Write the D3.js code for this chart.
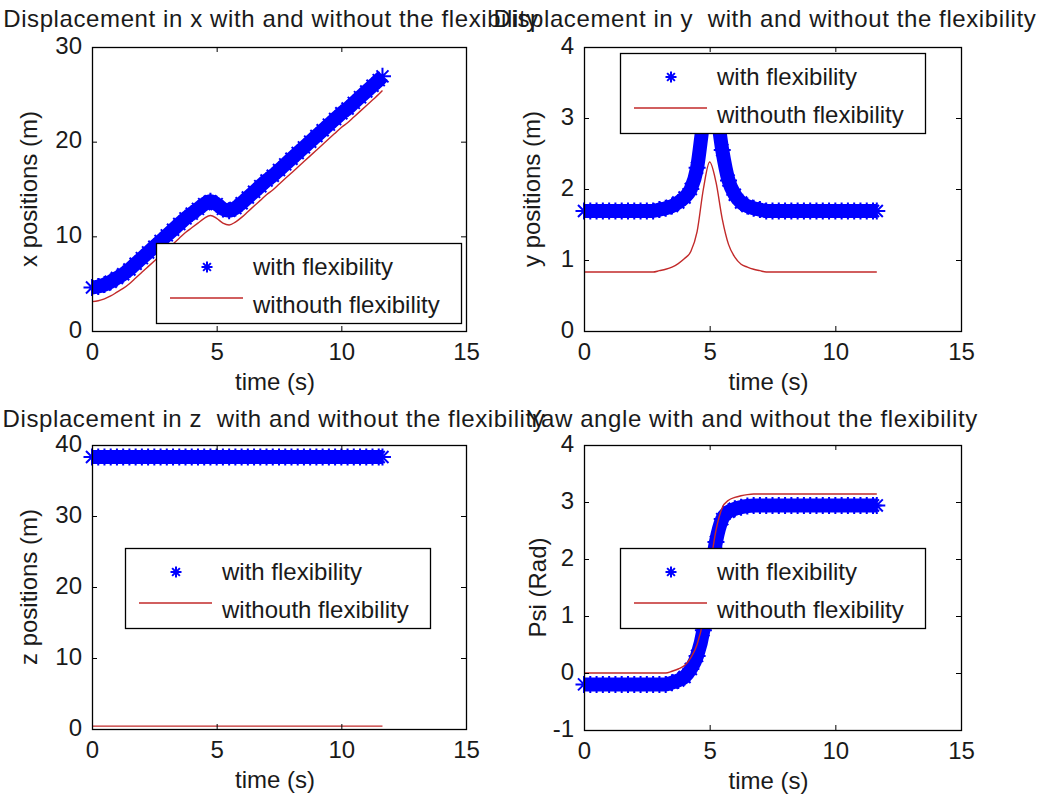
<!DOCTYPE html>
<html>
<head>
<meta charset="utf-8">
<script src="https://cdn.jsdelivr.net/npm/d3@7/dist/d3.min.js"></script>
<style>
  html, body { margin: 0; padding: 0; background: #ffffff; }
  svg { display: block; }
  text { font-family: "Liberation Sans", Arial, Helvetica, sans-serif; fill: #1a1a1a; }
</style>
</head>
<body>
<svg id="chart" width="1043" height="799"></svg>
<script>
// ---------------- data ----------------
const time = [0,0.25,0.5,0.75,1,1.25,1.5,1.75,2,2.25,2.5,2.75,3,3.25,3.5,3.75,4,4.25,4.5,4.75,5,5.25,5.5,5.75,6,6.25,6.5,6.75,7,7.25,7.5,7.75,8,8.25,8.5,8.75,9,9.25,9.5,9.75,10,10.25,10.5,10.75,11,11.25,11.5,11.65];

const xWith    = [4.6,4.7,4.9,5.2,5.6,6.0,6.5,7.1,7.7,8.3,8.9,9.5,10.1,10.7,11.3,11.9,12.4,12.9,13.4,13.7,13.4,12.9,12.7,13.0,13.5,14.1,14.7,15.3,15.9,16.4,17.0,17.6,18.2,18.8,19.4,20.0,20.6,21.2,21.8,22.4,23.0,23.5,24.1,24.7,25.3,25.9,26.5,26.9];
const xWithout = [3.1,3.2,3.4,3.7,4.1,4.5,5.0,5.6,6.2,6.8,7.4,8.0,8.6,9.2,9.8,10.4,10.9,11.4,11.9,12.2,11.9,11.4,11.2,11.5,12.0,12.6,13.2,13.8,14.4,14.9,15.5,16.1,16.7,17.3,17.9,18.5,19.1,19.7,20.3,20.9,21.5,22.0,22.6,23.2,23.8,24.4,25.0,25.4];

const yWith    = [1.69,1.69,1.69,1.69,1.69,1.69,1.69,1.69,1.69,1.69,1.69,1.69,1.71,1.73,1.76,1.81,1.88,2.00,2.30,2.95,3.40,3.15,2.55,2.12,1.92,1.81,1.76,1.73,1.71,1.69,1.69,1.69,1.69,1.69,1.69,1.69,1.69,1.69,1.69,1.69,1.69,1.69,1.69,1.69,1.69,1.69,1.69,1.69];
const yWithout = [0.83,0.83,0.83,0.83,0.83,0.83,0.83,0.83,0.83,0.83,0.83,0.83,0.85,0.87,0.90,0.95,1.02,1.12,1.40,2.00,2.38,2.10,1.58,1.22,1.04,0.94,0.90,0.87,0.85,0.83,0.83,0.83,0.83,0.83,0.83,0.83,0.83,0.83,0.83,0.83,0.83,0.83,0.83,0.83,0.83,0.83,0.83,0.83];

const zWith    = [38.3,38.3,38.3,38.3,38.3,38.3,38.3,38.3,38.3,38.3,38.3,38.3,38.3,38.3,38.3,38.3,38.3,38.3,38.3,38.3,38.3,38.3,38.3,38.3,38.3,38.3,38.3,38.3,38.3,38.3,38.3,38.3,38.3,38.3,38.3,38.3,38.3,38.3,38.3,38.3,38.3,38.3,38.3,38.3,38.3,38.3,38.3,38.3];
const zWithout = [0.4,0.4,0.4,0.4,0.4,0.4,0.4,0.4,0.4,0.4,0.4,0.4,0.4,0.4,0.4,0.4,0.4,0.4,0.4,0.4,0.4,0.4,0.4,0.4,0.4,0.4,0.4,0.4,0.4,0.4,0.4,0.4,0.4,0.4,0.4,0.4,0.4,0.4,0.4,0.4,0.4,0.4,0.4,0.4,0.4,0.4,0.4,0.4];

const psiWith    = [-0.2,-0.2,-0.2,-0.2,-0.2,-0.2,-0.2,-0.2,-0.2,-0.2,-0.2,-0.2,-0.2,-0.2,-0.17,-0.13,-0.07,0.07,0.30,0.75,1.60,2.30,2.70,2.83,2.88,2.91,2.93,2.94,2.94,2.94,2.94,2.94,2.94,2.94,2.94,2.94,2.94,2.94,2.94,2.94,2.94,2.94,2.94,2.94,2.94,2.94,2.94,2.94];
const psiWithout = [0,0,0,0,0,0,0,0,0,0,0,0,0,0,0.03,0.07,0.13,0.27,0.50,0.95,1.80,2.50,2.90,3.03,3.08,3.11,3.13,3.14,3.14,3.14,3.14,3.14,3.14,3.14,3.14,3.14,3.14,3.14,3.14,3.14,3.14,3.14,3.14,3.14,3.14,3.14,3.14,3.14];

const xTicks    = [0,5,10,15];
const yTicksX   = [0,10,20,30];
const yTicksY   = [0,1,2,3,4];
const yTicksZ   = [0,10,20,30,40];
const yTicksPsi = [-1,0,1,2,3,4];

const titles  = ["Displacement in x with and without the flexibility",
                 "Displacement in y  with and without the flexibility",
                 "Displacement in z  with and without the flexibility",
                 "Yaw angle with and without the flexibility"];
const ylabels = ["x positions (m)", "y positions (m)", "z positions (m)", "Psi (Rad)"];
const xlabel  = "time (s)";
const legendLabels = ["with flexibility", "withouth flexibility"];

// ---------------- layout ----------------
const panels = [
  {title: titles[0], ylabel: ylabels[0], w: xWith,   wo: xWithout,   yDom: [0,30], yTicks: yTicksX,
   box: {l: 92,  r: 466, t: 47,  b: 331}, leg: {x: 156, y: 243}, ylabX: 37,  titleX: 271, titleY: 27},
  {title: titles[1], ylabel: ylabels[1], w: yWith,   wo: yWithout,   yDom: [0,4],  yTicks: yTicksY,
   box: {l: 584, r: 961, t: 47,  b: 331}, leg: {x: 620, y: 53},  ylabX: 540, titleX: 765, titleY: 27},
  {title: titles[2], ylabel: ylabels[2], w: zWith,   wo: zWithout,   yDom: [0,40], yTicks: yTicksZ,
   box: {l: 92,  r: 466, t: 445, b: 729}, leg: {x: 125, y: 548}, ylabX: 37,  titleX: 274, titleY: 427},
  {title: titles[3], ylabel: ylabels[3], w: psiWith, wo: psiWithout, yDom: [-1,4], yTicks: yTicksPsi,
   box: {l: 584, r: 961, t: 445, b: 730}, leg: {x: 620, y: 548}, ylabX: 546, titleX: 752, titleY: 427}
];

const FONT = 24;
const BLUE = "#0000ff";
const RED  = "#c22a2a";
const svg = d3.select("#chart");

function starPath(r) {
  const d = r * Math.SQRT1_2;
  return `M${-r},0L${r},0M0,${-r}L0,${r}M${-d},${-d}L${d},${d}M${-d},${d}L${d},${-d}`;
}

// titles drawn first so later ones overlap like the original
panels.forEach(p => {
  svg.append("text")
    .attr("x", p.titleX).attr("y", p.titleY)
    .attr("text-anchor", "middle")
    .style("font-size", FONT + "px")
    .style("letter-spacing", "0.6px")
    .style("white-space", "pre")
    .text(p.title);
});

panels.forEach(p => {
  const x = d3.scaleLinear().domain([0, 15]).range([p.box.l, p.box.r]);
  const y = d3.scaleLinear().domain(p.yDom).range([p.box.b, p.box.t]);
  const g = svg.append("g");

  g.append("rect")
    .attr("x", p.box.l).attr("y", p.box.t)
    .attr("width", p.box.r - p.box.l).attr("height", p.box.b - p.box.t)
    .attr("fill", "#ffffff");

  const clipId = "clip" + p.box.l + "_" + p.box.t;
  g.append("clipPath").attr("id", clipId).append("rect")
    .attr("x", p.box.l - 12).attr("y", p.box.t)
    .attr("width", p.box.r - p.box.l + 24).attr("height", p.box.b - p.box.t);

  const data = time.map((t, i) => ({t, w: p.w[i], wo: p.wo[i]}));
  const plot = g.append("g").attr("clip-path", `url(#${clipId})`);

  // "with flexibility": dense '*' markers forming a band
  const bandLine = d3.line().x(d => x(d.t)).y(d => y(d.w)).curve(d3.curveMonotoneX);
  plot.append("path").datum(data)
    .attr("d", bandLine)
    .attr("fill", "none").attr("stroke", BLUE).attr("stroke-width", 14)
    .attr("stroke-linejoin", "round");
  plot.selectAll(".star").data(data).enter().append("path")
    .attr("transform", d => `translate(${x(d.t)},${y(d.w)})`)
    .attr("d", starPath(8.5))
    .attr("stroke", BLUE).attr("stroke-width", 2).attr("fill", "none");

  // "withouth flexibility": thin red line
  const redLine = d3.line().x(d => x(d.t)).y(d => y(d.wo)).curve(d3.curveMonotoneX);
  plot.append("path").datum(data)
    .attr("d", redLine)
    .attr("fill", "none").attr("stroke", RED).attr("stroke-width", 1.4);

  // axes with inward ticks
  const ax = g.append("g").attr("transform", `translate(0,${p.box.b})`)
    .call(d3.axisBottom(x).tickValues(xTicks).tickSize(-5).tickPadding(12).tickFormat(d3.format("d")));
  const ay = g.append("g").attr("transform", `translate(${p.box.l},0)`)
    .call(d3.axisLeft(y).tickValues(p.yTicks).tickSize(-5).tickPadding(10).tickFormat(d => d < 0 ? "-" + Math.abs(d) : String(d)));
  const axT = g.append("g").attr("transform", `translate(0,${p.box.t})`)
    .call(d3.axisTop(x).tickValues(xTicks).tickSize(-5).tickFormat(""));
  const ayR = g.append("g").attr("transform", `translate(${p.box.r},0)`)
    .call(d3.axisRight(y).tickValues(p.yTicks).tickSize(-5).tickFormat(""));
  [ax, ay, axT, ayR].forEach(a => {
    a.select(".domain").remove();
    a.selectAll(".tick line").attr("stroke", "#000").attr("stroke-width", 1);
    a.selectAll("text").style("font-size", FONT + "px").style("font-family", '"Liberation Sans", Arial, sans-serif').attr("fill", "#1a1a1a");
  });
  ay.selectAll("text").attr("dy", "0.25em");

  g.append("rect")
    .attr("x", p.box.l + 0.5).attr("y", p.box.t + 0.5)
    .attr("width", p.box.r - p.box.l).attr("height", p.box.b - p.box.t)
    .attr("fill", "none").attr("stroke", "#000").attr("stroke-width", 1.3);

  // axis labels
  g.append("text")
    .attr("x", (p.box.l + p.box.r) / 2 - 4).attr("y", p.box.b + 59)
    .attr("text-anchor", "middle").style("font-size", FONT + "px")
    .text(xlabel);
  g.append("text")
    .attr("transform", `translate(${p.ylabX},${(p.box.t + p.box.b) / 2}) rotate(-90)`)
    .attr("text-anchor", "middle").style("font-size", FONT + "px")
    .text(p.ylabel);

  // legend
  const L = g.append("g").attr("transform", `translate(${p.leg.x},${p.leg.y})`);
  L.append("rect").attr("x", 0.5).attr("y", 0.5).attr("width", 305).attr("height", 80)
    .attr("fill", "#ffffff").attr("stroke", "#000").attr("stroke-width", 1.3);
  L.append("path").attr("transform", "translate(51,24)").attr("d", starPath(5.5))
    .attr("stroke", BLUE).attr("stroke-width", 2).attr("fill", "none");
  L.append("line").attr("x1", 14).attr("x2", 87).attr("y1", 55).attr("y2", 55)
    .attr("stroke", RED).attr("stroke-width", 1.4);
  L.append("text").attr("x", 97).attr("y", 32).style("font-size", FONT + "px").text(legendLabels[0]);
  L.append("text").attr("x", 97).attr("y", 70).style("font-size", FONT + "px").text(legendLabels[1]);
});
</script>
</body>
</html>
